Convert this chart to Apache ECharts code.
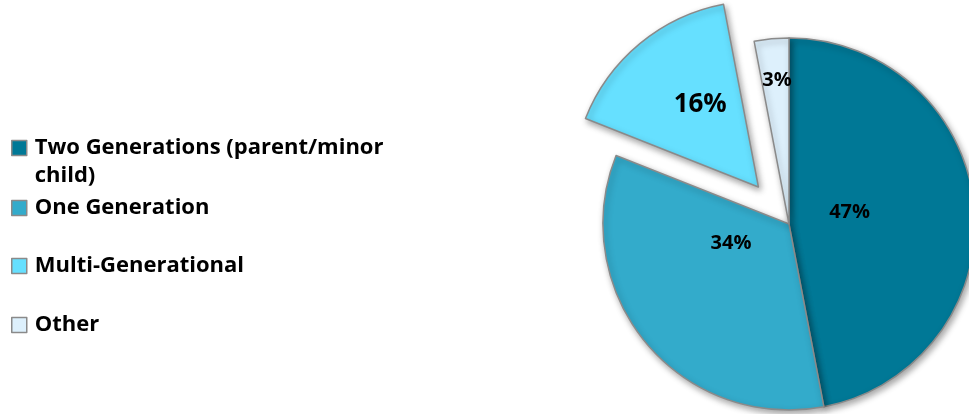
<!DOCTYPE html>
<html>
<head>
<meta charset="utf-8">
<script src="https://cdn.jsdelivr.net/npm/echarts@6/dist/echarts.min.js"></script>
<style>
html,body{margin:0;padding:0;background:#fff;}
#chart{width:969px;height:414px;}
</style>
</head>
<body>
<div id="chart"></div>
<script>
// ---- data ----
var categories = ['Two Generations (parent/minor child)', 'One Generation', 'Multi-Generational', 'Other'];
var values = [47, 34, 16, 3];
var colors = ['#007896', '#33ABCB', '#66E0FF', '#DDF0FC'];
var explodedIndex = 2;

var chart = echarts.init(document.getElementById('chart'), null, {renderer: 'canvas'});
var FONT = '"Open Sans"';

var labelShift = [[-35, -3], [16, -42], [3, -8], [-3, -48]];
var labelSize = [20, 20, 26, 20];

var pieData = categories.map(function (c, i) {
  return {
    name: c,
    value: values[i],
    selected: i === explodedIndex,
    itemStyle: {color: colors[i]},
    label: {fontSize: labelSize[i]}
  };
});

var legendTops = [106, 194, 252, 311];
var legends = categories.map(function (c, i) {
  return {
    left: 11,
    top: legendTops[i],
    padding: 0,
    orient: 'vertical',
    selectedMode: false,
    icon: 'rect',
    itemWidth: 15,
    itemHeight: 15,
    itemStyle: {borderColor: '#8a8a8a', borderWidth: 1.5},
    formatter: function (name) {
      // empty first line keeps the first text line level with the marker
      return name === categories[0] ? '\nTwo Generations (parent/minor\nchild)' : name;
    },
    textStyle: {fontFamily: FONT, fontWeight: 'bold', fontSize: 22, color: '#000', lineHeight: 28, padding: [0, 0, 0, 3]},
    data: [{name: c}]
  };
});

chart.setOption({
  animation: false,
  backgroundColor: '#fff',
  legend: legends,
  series: [{
    type: 'pie',
    center: [789, 224],
    radius: 186,
    startAngle: 90,
    clockwise: true,
    selectedMode: 'single',
    selectedOffset: 48,
    avoidLabelOverlap: false,
    emphasis: {disabled: true},
    itemStyle: {
      borderColor: '#8a8a8a',
      borderWidth: 1.5,
      shadowBlur: 6,
      shadowColor: 'rgba(0,0,0,0.35)',
      shadowOffsetX: 2,
      shadowOffsetY: 3
    },
    label: {
      show: true,
      position: 'inside',
      formatter: '{c}%',
      fontFamily: FONT,
      fontWeight: 'bold',
      color: '#000'
    },
    labelLine: {show: false},
    labelLayout: function (p) {
      var s = labelShift[p.dataIndex];
      return {dx: s[0], dy: s[1]};
    },
    data: pieData
  }]
});
</script>
</body>
</html>
